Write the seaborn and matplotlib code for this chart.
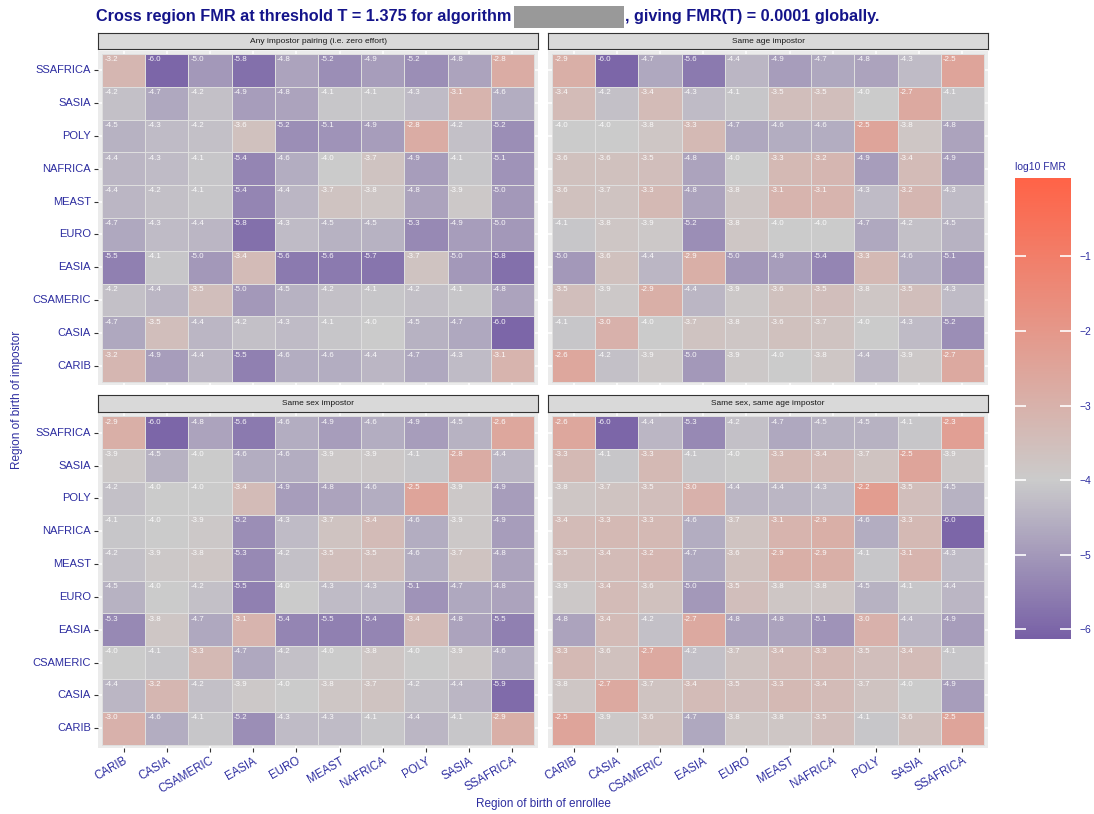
import numpy as np
import pandas as pd
import matplotlib
matplotlib.use("Agg")
import matplotlib.pyplot as plt
import seaborn as sns
from matplotlib.colors import LinearSegmentedColormap
from matplotlib.patches import Rectangle

sns.set_style("white")
plt.rcParams["font.family"] = ["Liberation Sans", "DejaVu Sans"]

# Regions of birth: enrollee on x, impostor on y (listed top to bottom)
enrollee_regions = ["CARIB", "CASIA", "CSAMERIC", "EASIA", "EURO",
                    "MEAST", "NAFRICA", "POLY", "SASIA", "SSAFRICA"]
impostor_regions = ["SSAFRICA", "SASIA", "POLY", "NAFRICA", "MEAST",
                    "EURO", "EASIA", "CSAMERIC", "CASIA", "CARIB"]

panel_titles = ["Any impostor pairing (i.e. zero effort)",
                "Same age impostor",
                "Same sex impostor",
                "Same sex, same age impostor"]

# log10 FMR, rows follow impostor_regions, columns follow enrollee_regions
fmr_any = [
    [-3.2, -6.0, -5.0, -5.8, -4.8, -5.2, -4.9, -5.2, -4.8, -2.8],
    [-4.2, -4.7, -4.2, -4.9, -4.8, -4.1, -4.1, -4.3, -3.1, -4.6],
    [-4.5, -4.3, -4.2, -3.6, -5.2, -5.1, -4.9, -2.8, -4.2, -5.2],
    [-4.4, -4.3, -4.1, -5.4, -4.6, -4.0, -3.7, -4.9, -4.1, -5.1],
    [-4.4, -4.2, -4.1, -5.4, -4.4, -3.7, -3.8, -4.8, -3.9, -5.0],
    [-4.7, -4.3, -4.4, -5.8, -4.3, -4.5, -4.5, -5.3, -4.9, -5.0],
    [-5.5, -4.1, -5.0, -3.4, -5.6, -5.6, -5.7, -3.7, -5.0, -5.8],
    [-4.2, -4.4, -3.5, -5.0, -4.5, -4.2, -4.1, -4.2, -4.1, -4.8],
    [-4.7, -3.5, -4.4, -4.2, -4.3, -4.1, -4.0, -4.5, -4.7, -6.0],
    [-3.2, -4.9, -4.4, -5.5, -4.6, -4.6, -4.4, -4.7, -4.3, -3.1],
]
fmr_same_age = [
    [-2.9, -6.0, -4.7, -5.6, -4.4, -4.9, -4.7, -4.8, -4.3, -2.5],
    [-3.4, -4.2, -3.4, -4.3, -4.1, -3.5, -3.5, -4.0, -2.7, -4.1],
    [-4.0, -4.0, -3.8, -3.3, -4.7, -4.6, -4.6, -2.5, -3.8, -4.8],
    [-3.6, -3.6, -3.5, -4.8, -4.0, -3.3, -3.2, -4.9, -3.4, -4.9],
    [-3.6, -3.7, -3.3, -4.8, -3.8, -3.1, -3.1, -4.3, -3.2, -4.3],
    [-4.1, -3.8, -3.9, -5.2, -3.8, -4.0, -4.0, -4.7, -4.2, -4.5],
    [-5.0, -3.6, -4.4, -2.9, -5.0, -4.9, -5.4, -3.3, -4.6, -5.1],
    [-3.5, -3.9, -2.9, -4.4, -3.9, -3.6, -3.5, -3.8, -3.5, -4.3],
    [-4.1, -3.0, -4.0, -3.7, -3.8, -3.6, -3.7, -4.0, -4.3, -5.2],
    [-2.6, -4.2, -3.9, -5.0, -3.9, -4.0, -3.8, -4.4, -3.9, -2.7],
]
fmr_same_sex = [
    [-2.9, -6.0, -4.8, -5.6, -4.6, -4.9, -4.6, -4.9, -4.5, -2.6],
    [-3.9, -4.5, -4.0, -4.6, -4.6, -3.9, -3.9, -4.1, -2.8, -4.4],
    [-4.2, -4.0, -4.0, -3.4, -4.9, -4.8, -4.6, -2.5, -3.9, -4.9],
    [-4.1, -4.0, -3.9, -5.2, -4.3, -3.7, -3.4, -4.6, -3.9, -4.9],
    [-4.2, -3.9, -3.8, -5.3, -4.2, -3.5, -3.5, -4.6, -3.7, -4.8],
    [-4.5, -4.0, -4.2, -5.5, -4.0, -4.3, -4.3, -5.1, -4.7, -4.8],
    [-5.3, -3.8, -4.7, -3.1, -5.4, -5.5, -5.4, -3.4, -4.8, -5.5],
    [-4.0, -4.1, -3.3, -4.7, -4.2, -4.0, -3.8, -4.0, -3.9, -4.6],
    [-4.4, -3.2, -4.2, -3.9, -4.0, -3.8, -3.7, -4.2, -4.4, -5.9],
    [-3.0, -4.6, -4.1, -5.2, -4.3, -4.3, -4.1, -4.4, -4.1, -2.9],
]
fmr_same_sex_age = [
    [-2.6, -6.0, -4.4, -5.3, -4.2, -4.7, -4.5, -4.5, -4.1, -2.3],
    [-3.3, -4.1, -3.3, -4.1, -4.0, -3.3, -3.4, -3.7, -2.5, -3.9],
    [-3.8, -3.7, -3.5, -3.0, -4.4, -4.4, -4.3, -2.2, -3.5, -4.5],
    [-3.4, -3.3, -3.3, -4.6, -3.7, -3.1, -2.9, -4.6, -3.3, -6.0],
    [-3.5, -3.4, -3.2, -4.7, -3.6, -2.9, -2.9, -4.1, -3.1, -4.3],
    [-3.9, -3.4, -3.6, -5.0, -3.5, -3.8, -3.8, -4.5, -4.1, -4.4],
    [-4.8, -3.4, -4.2, -2.7, -4.8, -4.8, -5.1, -3.0, -4.4, -4.9],
    [-3.3, -3.6, -2.7, -4.2, -3.7, -3.4, -3.3, -3.5, -3.4, -4.1],
    [-3.8, -2.7, -3.7, -3.4, -3.5, -3.3, -3.4, -3.7, -4.0, -4.9],
    [-2.5, -3.9, -3.6, -4.7, -3.8, -3.8, -3.5, -4.1, -3.6, -2.5],
]
panel_values = [fmr_any, fmr_same_age, fmr_same_sex, fmr_same_sex_age]

colorbar_ticks = [-1, -2, -3, -4, -5, -6]

# diverging scale: purple (low) -> grey (midpoint -4) -> tomato (high)
VMIN, VMID, VMAX = -6.13, -4.0, 0.05
cmap = LinearSegmentedColormap.from_list(
    "fmr",
    [(0.0, "#7760a6"),
     ((VMID - VMIN) / (VMAX - VMIN), "#cbcbcb"),
     (1.0, "#ff6347")])

LABEL_BLUE = "#2d2da0"
TITLE_BLUE = "#14148a"

W, H = 1094, 814
fig = plt.figure(figsize=(W / 100, H / 100), dpi=100)


def px_rect(x0, y0, x1, y1):
    return [x0 / W, 1 - y1 / H, (x1 - x0) / W, (y1 - y0) / H]


panel_boxes = [(97.7, 50.7, 538.3, 385.3), (547.7, 50.7, 988.3, 385.3),
               (97.7, 413.0, 538.3, 748.0), (547.7, 413.0, 988.3, 748.0)]

mesh = None
for k, (box, title, values) in enumerate(zip(panel_boxes, panel_titles, panel_values)):
    x0, y0, x1, y1 = box
    ax = fig.add_axes(px_rect(x0, y0, x1, y1))
    df = pd.DataFrame(values, index=impostor_regions, columns=enrollee_regions)
    sns.heatmap(df, ax=ax, cmap=cmap, vmin=VMIN, vmax=VMAX, cbar=False,
                linewidths=0.5, linecolor="#dedede", square=False)
    mesh = ax.collections[0]
    ax.set_facecolor("#ebebeb")
    ax.set_xlim(-0.1, len(enrollee_regions) + 0.1)
    ax.set_ylim(len(impostor_regions) + 0.1, -0.1)
    ax.set_axisbelow(True)
    ax.grid(True, color="white", linewidth=1.1)
    ax.set_xlabel("")
    ax.set_ylabel("")
    left_col = k in (0, 2)
    bottom_row = k in (2, 3)
    ax.tick_params(axis="both", width=0.8, color="#333333", pad=2)
    ax.tick_params(axis="y", left=left_col, length=3 if left_col else 0)
    ax.tick_params(axis="x", bottom=bottom_row, length=3 if bottom_row else 0)
    if left_col:
        ax.set_yticklabels(impostor_regions, rotation=0, fontsize=8, color=LABEL_BLUE)
    else:
        ax.set_yticklabels([])
    if bottom_row:
        ax.set_xticklabels(enrollee_regions, rotation=30, ha="right",
                           rotation_mode="anchor", fontsize=8.3, color=LABEL_BLUE)
    else:
        ax.set_xticklabels([])

    # value labels in the upper-left corner of each tile
    for i, row in enumerate(values):
        for j, v in enumerate(row):
            ax.text(j + 0.05, i + 0.07, f"{v:.1f}", ha="left", va="top",
                    fontsize=5.7, color="white", alpha=0.92)

    # facet strip
    sax = fig.add_axes(px_rect(x0, y0 - 17.5, x1, y0 - 1.5))
    sax.set_xticks([])
    sax.set_yticks([])
    sax.set_facecolor("#d9d9d9")
    for sp in sax.spines.values():
        sp.set_color("#333333")
        sp.set_linewidth(0.8)
    sax.text(0.5, 0.5, title, ha="center", va="center", fontsize=6,
             color="#1a1a1a", transform=sax.transAxes)

# shared axis titles
fig.text(543 / W, 1 - 804 / H, "Region of birth of enrollee", ha="center",
         va="center", fontsize=8.5, color=LABEL_BLUE)
fig.text(17 / W, 1 - 400 / H, "Region of birth of impostor", ha="center",
         va="center", rotation=90, fontsize=8.5, color=LABEL_BLUE)

# colour bar with short white tick marks on both edges
cax = fig.add_axes(px_rect(1015, 178, 1071, 639))
cb = fig.colorbar(mesh, cax=cax, ticks=colorbar_ticks)
cb.outline.set_visible(False)
cax.tick_params(axis="y", length=0, labelsize=7.5, labelcolor=LABEL_BLUE, pad=6)
cax.set_yticklabels(["\u22121", "\u22122", "\u22123", "\u22124", "\u22125", "\u22126"])
edge_tf = cax.get_yaxis_transform()
cax.hlines(colorbar_ticks, 0.0, 0.2, transform=edge_tf, colors="white",
           linewidth=1.2, zorder=5)
cax.hlines(colorbar_ticks, 0.8, 1.0, transform=edge_tf, colors="white",
           linewidth=1.2, zorder=5)
fig.text(1015 / W, 1 - 167 / H, "log10 FMR", ha="left", va="center",
         fontsize=7.5, color=LABEL_BLUE)

# title with a grey block between the two halves
title_y = 1 - 17 / H
t1 = fig.text(96 / W, title_y, "Cross region FMR at threshold T = 1.375 for algorithm",
              ha="left", va="center", fontsize=11.7, fontweight="bold", color=TITLE_BLUE)
fig.canvas.draw()
ext = t1.get_window_extent(renderer=fig.canvas.get_renderer())
box_x0 = ext.x1 + 3
box_w = 110
fig.add_artist(Rectangle((box_x0 / W, 1 - 28 / H), box_w / W, 22 / H,
                         transform=fig.transFigure, facecolor="#999999",
                         edgecolor="none"))
fig.text((box_x0 + box_w + 1) / W, title_y, ", giving FMR(T) = 0.0001 globally.",
         ha="left", va="center", fontsize=11.7, fontweight="bold", color=TITLE_BLUE)

fig.savefig("out.png", dpi=100)
